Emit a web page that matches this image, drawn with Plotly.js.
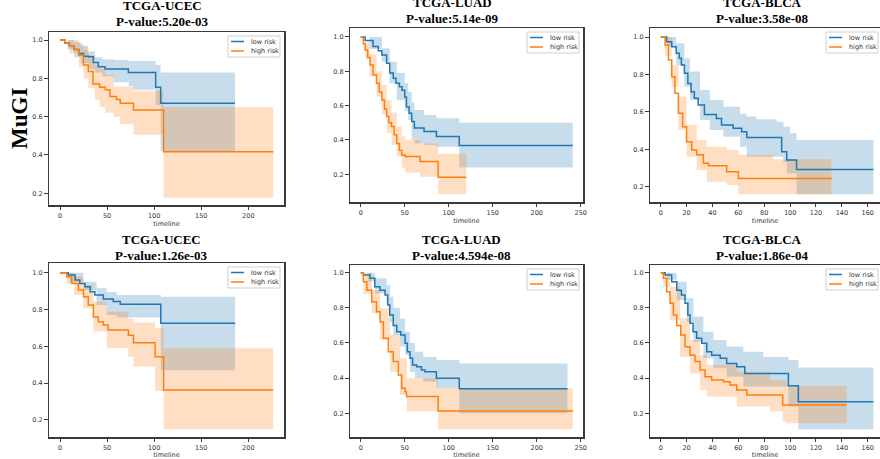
<!DOCTYPE html>
<html>
<head>
<meta charset="utf-8">
<script src="https://cdn.plot.ly/plotly-3.0.1.min.js"></script>
<style>html,body{margin:0;padding:0;background:#fff;}#chart{width:880px;height:459px;}</style>
</head>
<body>
<div id="chart"></div>
<script>
// ---------- text ----------
const cohortNames = ['TCGA-UCEC', 'TCGA-LUAD', 'TCGA-BLCA', 'TCGA-UCEC', 'TCGA-LUAD', 'TCGA-BLCA'];
const pValues = ['5.20e-03', '5.14e-09', '3.58e-08', '1.26e-03', '4.594e-08', '1.86e-04'];
const groupNames = ['low risk', 'high risk'];
const rowLabel = 'MuGI';
const xTitle = 'timeline';

// ---------- Panel 1 : TCGA-UCEC (top) ----------
const p1LowT = [0, 5, 10, 15, 20, 25, 30, 35.4, 40.7, 47.8, 72.6, 101.6, 106.9, 185.8];
const p1LowS = [1.0, 0.985, 0.97, 0.95, 0.93, 0.915, 0.913, 0.882, 0.86, 0.849, 0.83, 0.753, 0.67, 0.67];
const p1LowBandT = [0, 8, 15, 22, 30, 37, 45, 57, 73, 78, 101.6, 106.9, 185.8];
const p1LowHi = [1.0, 1.0, 0.99, 0.97, 0.94, 0.91, 0.90, 0.896, 0.89, 0.89, 0.87, 0.83, 0.83];
const p1LowLo = [1.0, 0.95, 0.91, 0.88, 0.85, 0.83, 0.81, 0.78, 0.76, 0.74, 0.66, 0.42, 0.42];
const p1HighT = [0, 5, 10, 15, 20, 25, 30, 35, 42, 48, 53, 60, 64, 78, 110, 226.5];
const p1HighS = [1.0, 0.985, 0.97, 0.95, 0.92, 0.87, 0.835, 0.77, 0.753, 0.74, 0.705, 0.69, 0.67, 0.635, 0.417, 0.417];
const p1HighBandT = [0, 10, 20, 25, 30, 37, 42, 48, 57, 64, 78, 110, 226.5];
const p1HighHi = [1.0, 1.0, 0.98, 0.95, 0.92, 0.87, 0.85, 0.82, 0.757, 0.757, 0.735, 0.65, 0.65];
const p1HighLo = [1.0, 0.93, 0.86, 0.80, 0.75, 0.69, 0.65, 0.62, 0.60, 0.56, 0.505, 0.177, 0.177];

// ---------- Panel 2 : TCGA-LUAD (top) ----------
const p2LowT = [0, 5, 14, 20, 24, 29.5, 33, 37, 40, 44, 47, 50, 52, 55, 58, 61, 72, 86, 112, 241];
const p2LowS = [1.0, 0.98, 0.944, 0.92, 0.895, 0.847, 0.79, 0.76, 0.73, 0.71, 0.69, 0.65, 0.594, 0.555, 0.507, 0.47, 0.449, 0.42, 0.367, 0.367];
const p2LowBandT = [0, 10, 24, 33, 41, 50, 54, 58, 61, 72, 86, 112, 241];
const p2LowHi = [1.0, 1.0, 0.934, 0.856, 0.79, 0.73, 0.68, 0.62, 0.575, 0.546, 0.526, 0.50, 0.50];
const p2LowLo = [1.0, 0.93, 0.856, 0.73, 0.633, 0.57, 0.516, 0.40, 0.38, 0.37, 0.36, 0.239, 0.239];
const p2HighT = [0, 3, 5, 8, 10.6, 14, 18, 21, 24, 27, 29.5, 32, 35, 38, 41, 44, 46.6, 50.4, 67.4, 88, 120];
const p2HighS = [1.0, 0.96, 0.924, 0.88, 0.837, 0.78, 0.73, 0.68, 0.633, 0.58, 0.536, 0.50, 0.478, 0.43, 0.38, 0.34, 0.313, 0.303, 0.274, 0.182, 0.182];
const p2HighBandT = [0, 5, 10, 18, 24, 29.5, 35, 41, 46.6, 50.4, 67.4, 88, 120];
const p2HighHi = [1.0, 0.97, 0.90, 0.80, 0.72, 0.633, 0.56, 0.48, 0.42, 0.40, 0.38, 0.32, 0.32];
const p2HighLo = [1.0, 0.87, 0.77, 0.652, 0.55, 0.44, 0.37, 0.303, 0.24, 0.21, 0.186, 0.085, 0.085];

// ---------- Panel 3 : TCGA-BLCA (top) ----------
const p3LowT = [0, 4.6, 8.5, 12, 14.4, 16, 18.3, 21, 23.5, 26, 29, 33.8, 43, 47, 56, 62.6, 66.5, 93.5, 97.4, 105, 164.4];
const p3LowS = [1.0, 0.975, 0.948, 0.913, 0.886, 0.85, 0.806, 0.752, 0.708, 0.672, 0.636, 0.586, 0.565, 0.53, 0.512, 0.494, 0.463, 0.387, 0.342, 0.292, 0.292];
const p3LowBandT = [0, 5, 12, 18.3, 22.7, 30.4, 38, 48.5, 61.3, 66.5, 74, 89.7, 94.8, 97.4, 100, 105, 164.4];
const p3LowHi = [1.0, 1.0, 0.966, 0.886, 0.815, 0.717, 0.663, 0.627, 0.59, 0.575, 0.56, 0.547, 0.52, 0.52, 0.485, 0.449, 0.449];
const p3LowLo = [1.0, 0.95, 0.85, 0.734, 0.663, 0.556, 0.503, 0.467, 0.414, 0.36, 0.36, 0.36, 0.33, 0.27, 0.27, 0.16, 0.16];
const p3HighT = [0, 3.4, 6, 8.5, 11, 13.7, 17, 20, 24, 27.8, 33, 37, 51, 60, 132];
const p3HighS = [1.0, 0.957, 0.877, 0.788, 0.70, 0.592, 0.52, 0.44, 0.396, 0.37, 0.325, 0.312, 0.28, 0.244, 0.244];
const p3HighBandT = [0, 3.4, 8.5, 13.7, 20, 27.8, 35.6, 51, 60, 87, 132];
const p3HighHi = [1.0, 1.0, 0.85, 0.68, 0.53, 0.449, 0.414, 0.396, 0.37, 0.346, 0.346];
const p3HighLo = [1.0, 0.90, 0.734, 0.503, 0.36, 0.289, 0.226, 0.209, 0.16, 0.16, 0.16];

// ---------- Panel 4 : TCGA-UCEC (bottom) ----------
const p4LowT = [0, 8.8, 16, 21, 26.5, 32, 37, 46, 56.6, 64, 107, 186];
const p4LowS = [1.0, 0.987, 0.96, 0.942, 0.924, 0.897, 0.879, 0.857, 0.843, 0.828, 0.725, 0.725];
const p4LowBandT = [0, 10, 24.8, 38.9, 49.6, 60.2, 107, 186];
const p4LowHi = [1.0, 1.0, 0.951, 0.915, 0.895, 0.879, 0.87, 0.87];
const p4LowLo = [1.0, 0.95, 0.906, 0.824, 0.77, 0.756, 0.47, 0.47];
const p4HighT = [0, 7, 12.4, 19.5, 25, 30, 35.4, 40.7, 46, 51, 72.6, 78, 101, 110, 226.5];
const p4HighS = [1.0, 0.978, 0.942, 0.906, 0.87, 0.824, 0.76, 0.734, 0.716, 0.689, 0.66, 0.62, 0.544, 0.363, 0.363];
const p4HighBandT = [0, 7, 15, 24.8, 35.4, 49.6, 72.6, 78, 101, 110, 226.5];
const p4HighHi = [1.0, 1.0, 0.98, 0.933, 0.843, 0.788, 0.75, 0.73, 0.70, 0.59, 0.59];
const p4HighLo = [1.0, 0.94, 0.88, 0.806, 0.68, 0.589, 0.544, 0.49, 0.357, 0.149, 0.149];

// ---------- Panel 5 : TCGA-LUAD (bottom) ----------
const p5LowT = [0, 3, 10.6, 16, 22, 27.7, 30.7, 33, 37, 41, 45.5, 50.4, 53, 56, 59, 63.6, 69, 73, 86, 112, 235];
const p5LowS = [1.0, 0.987, 0.968, 0.92, 0.90, 0.873, 0.816, 0.76, 0.70, 0.664, 0.645, 0.598, 0.55, 0.513, 0.475, 0.465, 0.446, 0.437, 0.40, 0.34, 0.34];
const p5LowBandT = [0, 8, 16.3, 29.5, 33.3, 37.1, 44.7, 50.4, 56, 61.7, 71.2, 86.4, 112, 235];
const p5LowHi = [1.0, 1.0, 0.968, 0.93, 0.863, 0.80, 0.74, 0.664, 0.60, 0.55, 0.52, 0.503, 0.484, 0.484];
const p5LowLo = [1.0, 0.95, 0.882, 0.816, 0.72, 0.645, 0.58, 0.53, 0.437, 0.40, 0.38, 0.342, 0.20, 0.20];
const p5HighT = [0, 3, 7, 12.5, 18, 22, 25.8, 31.4, 37, 42.8, 46.6, 50.4, 52, 88, 241];
const p5HighS = [1.0, 0.949, 0.90, 0.835, 0.778, 0.72, 0.627, 0.55, 0.494, 0.418, 0.342, 0.323, 0.295, 0.213, 0.213];
const p5HighBandT = [0, 3, 12.5, 22, 33.3, 44.7, 52.3, 88, 241];
const p5HighHi = [1.0, 1.0, 0.90, 0.797, 0.645, 0.513, 0.40, 0.342, 0.342];
const p5HighLo = [1.0, 0.88, 0.769, 0.617, 0.437, 0.304, 0.21, 0.109, 0.109];

// ---------- Panel 6 : TCGA-BLCA (bottom) ----------
const p6LowT = [0, 3.4, 8.5, 12.4, 16, 18.8, 21, 22.7, 25, 27.8, 31.7, 35.6, 39.4, 46, 51, 58.8, 65, 98.7, 106.4, 164.4];
const p6LowS = [1.0, 0.987, 0.949, 0.90, 0.873, 0.826, 0.76, 0.712, 0.664, 0.627, 0.598, 0.55, 0.53, 0.513, 0.484, 0.465, 0.427, 0.357, 0.266, 0.266];
const p6LowBandT = [0, 5, 12.4, 20.1, 25.3, 33, 40.7, 51, 63.9, 79.4, 98.7, 106.4, 164.4];
const p6LowHi = [1.0, 1.0, 0.949, 0.854, 0.75, 0.664, 0.617, 0.58, 0.55, 0.52, 0.503, 0.46, 0.46];
const p6LowLo = [1.0, 0.96, 0.845, 0.72, 0.607, 0.513, 0.456, 0.408, 0.352, 0.352, 0.239, 0.109, 0.109];
const p6HighT = [0, 2, 4.6, 7.2, 9.8, 12.4, 15.5, 18.8, 22.7, 26.5, 30.4, 34.3, 39.4, 48.5, 53.6, 58.8, 66.5, 94.3, 143.8];
const p6HighS = [1.0, 0.968, 0.892, 0.826, 0.76, 0.70, 0.645, 0.578, 0.53, 0.494, 0.446, 0.408, 0.39, 0.38, 0.361, 0.333, 0.304, 0.247, 0.247];
const p6HighBandT = [0, 2, 7.2, 15, 22.7, 30.4, 35.6, 58.8, 84.5, 94.3, 97.4, 143.8];
const p6HighHi = [1.0, 1.0, 0.92, 0.74, 0.617, 0.532, 0.475, 0.437, 0.39, 0.39, 0.355, 0.355];
const p6HighLo = [1.0, 0.92, 0.73, 0.522, 0.427, 0.333, 0.295, 0.238, 0.21, 0.153, 0.143, 0.143];

// ---------- assemble ----------
const panelData = [
  {low: [p1LowT, p1LowS, p1LowBandT, p1LowLo, p1LowHi], high: [p1HighT, p1HighS, p1HighBandT, p1HighLo, p1HighHi]},
  {low: [p2LowT, p2LowS, p2LowBandT, p2LowLo, p2LowHi], high: [p2HighT, p2HighS, p2HighBandT, p2HighLo, p2HighHi]},
  {low: [p3LowT, p3LowS, p3LowBandT, p3LowLo, p3LowHi], high: [p3HighT, p3HighS, p3HighBandT, p3HighLo, p3HighHi]},
  {low: [p4LowT, p4LowS, p4LowBandT, p4LowLo, p4LowHi], high: [p4HighT, p4HighS, p4HighBandT, p4HighLo, p4HighHi]},
  {low: [p5LowT, p5LowS, p5LowBandT, p5LowLo, p5LowHi], high: [p5HighT, p5HighS, p5HighBandT, p5HighLo, p5HighHi]},
  {low: [p6LowT, p6LowS, p6LowBandT, p6LowLo, p6LowHi], high: [p6HighT, p6HighS, p6HighBandT, p6HighLo, p6HighHi]}
];

// layout geometry in pixels (frame left, right, top, bottom) and axis ranges
const W = 880, H = 459;
const geo = [
  {px: [49, 284], py: [32, 205], xr: [-11.7, 237.9], yr: [0.1388, 1.0418], dt: 50, tx: 162.5, ty: [5.8, 21.5], rightSpine: true, legR: 284},
  {px: [350, 583], py: [28, 202], xr: [-12.16, 252.6], yr: [0.0385, 1.0524], dt: 50, tx: 452.5, ty: [2.9, 18.8], rightSpine: true, legR: 583},
  {px: [650, 880], py: [28, 202], xr: [-8.27, 169.5], yr: [0.1181, 1.0481], dt: 20, tx: 762.8, ty: [2.9, 18.8], rightSpine: false, legR: 882},
  {px: [49, 284], py: [263, 437], xr: [-11.7, 237.9], yr: [0.1075, 1.0527], dt: 50, tx: 161.5, ty: [239, 255], rightSpine: true, legR: 284},
  {px: [350, 583], py: [265, 437], xr: [-12.16, 252.6], yr: [0.0651, 1.0438], dt: 50, tx: 461.5, ty: [239, 255], rightSpine: true, legR: 583},
  {px: [650, 880], py: [265, 437], xr: [-8.27, 169.5], yr: [0.0651, 1.0438], dt: 20, tx: 762.8, ty: [239.5, 255.5], rightSpine: false, legR: 882}
];

const lineColors = ['#1f77b4', '#ff7f0e'];
const fillColors = ['rgba(31,119,180,0.25)', 'rgba(255,127,14,0.25)'];

const traces = [];
const layout = {
  width: W, height: H,
  margin: {l: 0, r: 0, t: 0, b: 0},
  paper_bgcolor: '#ffffff', plot_bgcolor: '#ffffff',
  showlegend: false,
  annotations: [],
  shapes: [],
  font: {family: 'DejaVu Sans', size: 6.5, color: '#333'}
};

const px2x = p => p / W;
const py2y = p => 1 - p / H;

geo.forEach((g, i) => {
  const k = i + 1;
  const xa = k === 1 ? 'x' : 'x' + k;
  const ya = k === 1 ? 'y' : 'y' + k;
  const d = panelData[i];
  [d.low, d.high].forEach((grp, gi) => {
    traces.push({x: grp[2], y: grp[3], xaxis: xa, yaxis: ya, mode: 'lines', line: {shape: 'hv', width: 0, color: lineColors[gi]},
      hoverinfo: 'skip'});
    traces.push({x: grp[2], y: grp[4], xaxis: xa, yaxis: ya, mode: 'lines', line: {shape: 'hv', width: 0, color: lineColors[gi]},
      fill: 'tonexty', fillcolor: fillColors[gi], hoverinfo: 'skip'});
  });
  [d.low, d.high].forEach((grp, gi) => {
    traces.push({x: grp[0], y: grp[1], xaxis: xa, yaxis: ya, mode: 'lines', name: groupNames[gi],
      line: {shape: 'hv', width: 1.5, color: lineColors[gi]}});
  });
  const axCommon = {showgrid: false, zeroline: false, showline: true, linecolor: '#3a3a3a', linewidth: 1.5,
    ticks: 'outside', ticklen: 3.5, tickwidth: 1, tickcolor: '#3a3a3a',
    tickfont: {family: 'DejaVu Sans', size: 6.5, color: '#333'}, fixedrange: true};
  layout['xaxis' + (k === 1 ? '' : k)] = Object.assign({}, axCommon, {
    domain: [g.px[0] / W, g.px[1] / W], range: g.xr, anchor: ya, dtick: g.dt, tick0: 0, mirror: true,
    title: {text: xTitle, font: {family: 'DejaVu Sans', size: 6.5, color: '#333'}, standoff: 1}
  });
  layout['yaxis' + (k === 1 ? '' : k)] = Object.assign({}, axCommon, {
    domain: [1 - g.py[1] / H, 1 - g.py[0] / H], range: g.yr, anchor: xa, dtick: 0.2, tick0: 0, tickformat: '.1f',
    mirror: g.rightSpine
  });

  // legend box (matplotlib-style, inside upper right)
  const L = g.legR - 56, R = g.legR - 4, T = g.py[0] + 4, B = g.py[0] + 25;
  layout.shapes.push({type: 'rect', xref: 'paper', yref: 'paper', x0: px2x(L), x1: px2x(R), y0: py2y(B), y1: py2y(T),
    fillcolor: 'rgba(255,255,255,0.85)', line: {color: '#cfcfcf', width: 1}, layer: 'above'});
  groupNames.forEach((nm, gi) => {
    const yy = T + 5.5 + gi * 9.5;
    layout.shapes.push({type: 'line', xref: 'paper', yref: 'paper', x0: px2x(L + 3), x1: px2x(L + 16), y0: py2y(yy), y1: py2y(yy),
      line: {color: lineColors[gi], width: 1.5}, layer: 'above'});
    layout.annotations.push({xref: 'paper', yref: 'paper', x: px2x(L + 20.5), y: py2y(yy), xanchor: 'left', yanchor: 'middle',
      text: nm, showarrow: false, font: {family: 'DejaVu Sans', size: 6.5, color: '#333'}});
  });

  layout.annotations.push({xref: 'paper', yref: 'paper', x: g.tx / W, y: 1 - g.ty[0] / H, xanchor: 'center', yanchor: 'middle',
    text: '<b>' + cohortNames[i] + '</b>', showarrow: false, font: {family: 'Liberation Serif', size: 13, color: '#000'}});
  layout.annotations.push({xref: 'paper', yref: 'paper', x: g.tx / W, y: 1 - g.ty[1] / H, xanchor: 'center', yanchor: 'middle',
    text: '<b>P-value:' + pValues[i] + '</b>', showarrow: false, font: {family: 'Liberation Serif', size: 13, color: '#000'}});
});

layout.annotations.push({xref: 'paper', yref: 'paper', x: 19 / W, y: 1 - 119 / H, xanchor: 'center', yanchor: 'middle',
  text: '<b>' + rowLabel + '</b>', textangle: -90, showarrow: false, font: {family: 'Liberation Serif', size: 23, color: '#000'}});

Plotly.newPlot('chart', traces, layout, {staticPlot: true, displayModeBar: false});
</script>
</body>
</html>
